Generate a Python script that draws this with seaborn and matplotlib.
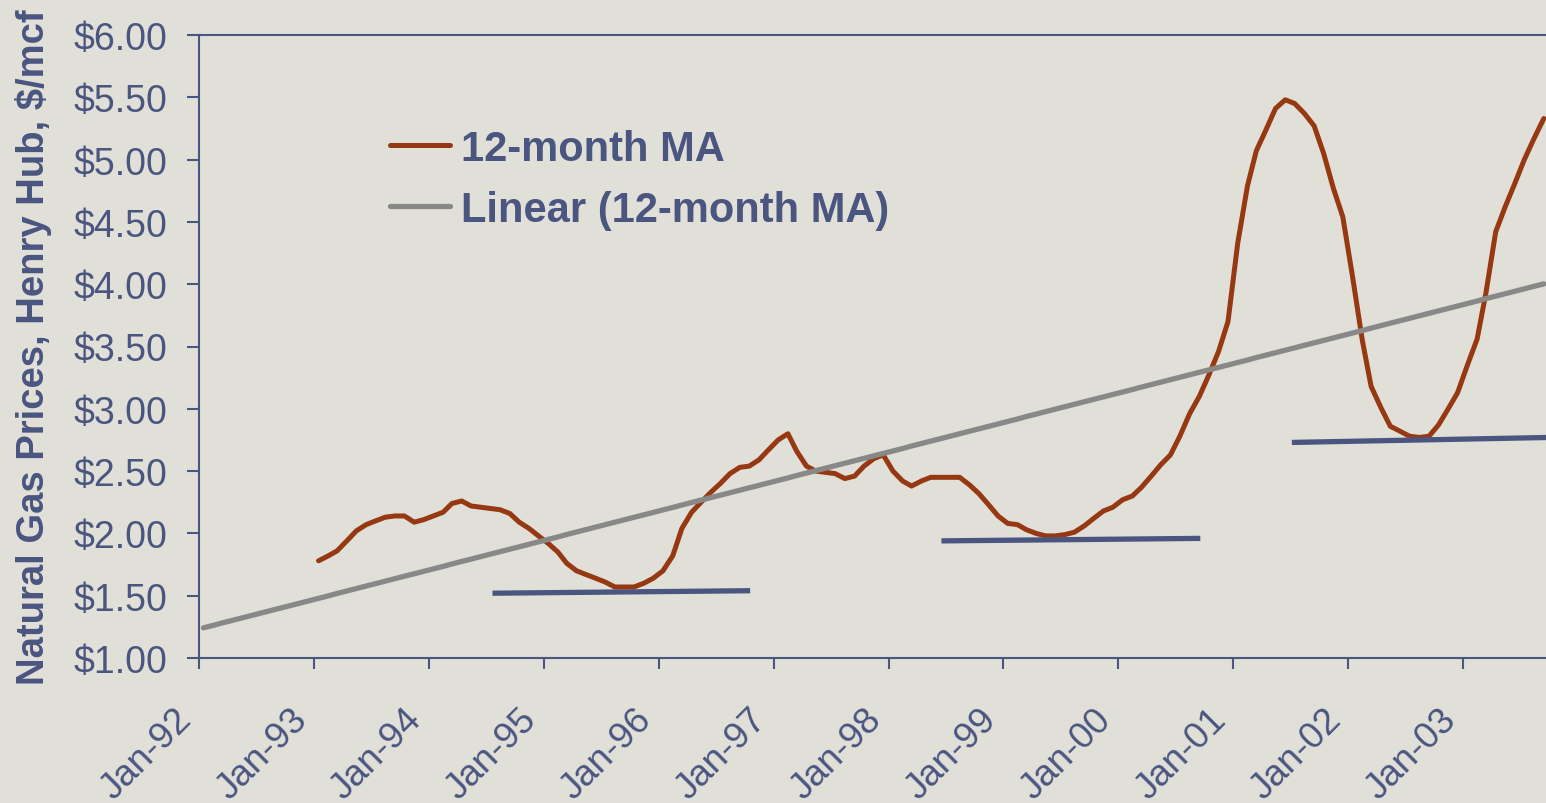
import numpy as np
import pandas as pd
import seaborn as sns
import matplotlib.pyplot as plt
import matplotlib.dates as mdates
from matplotlib.ticker import FuncFormatter

# 12-month moving average of Henry Hub price, $/mcf, monthly from Jan-93
ma_start = '1993-01-01'
ma_values = [
    1.78, 1.82, 1.86, 1.94, 2.02, 2.07, 2.10, 2.13, 2.14, 2.14, 2.09, 2.11,   # 1993
    2.14, 2.17, 2.24, 2.26, 2.22, 2.21, 2.20, 2.19, 2.16, 2.09, 2.04, 1.98,   # 1994
    1.92, 1.85, 1.76, 1.70, 1.67, 1.64, 1.61, 1.57, 1.57, 1.57, 1.60, 1.64,   # 1995
    1.70, 1.82, 2.04, 2.17, 2.25, 2.33, 2.40, 2.48, 2.53, 2.54, 2.59, 2.67,   # 1996
    2.75, 2.80, 2.66, 2.54, 2.50, 2.49, 2.48, 2.44, 2.46, 2.54, 2.60, 2.63,   # 1997
    2.50, 2.42, 2.38, 2.42, 2.45, 2.45, 2.45, 2.45, 2.39, 2.32, 2.23, 2.14,   # 1998
    2.08, 2.07, 2.03, 2.00, 1.98, 1.98, 1.99, 2.01, 2.06, 2.12, 2.18, 2.21,   # 1999
    2.27, 2.30, 2.37, 2.46, 2.55, 2.63, 2.78, 2.96, 3.10, 3.27, 3.46, 3.70,   # 2000
    4.33, 4.79, 5.07, 5.24, 5.41, 5.48, 5.45, 5.37, 5.27, 5.05, 4.77, 4.54,   # 2001
    4.06, 3.55, 3.18, 3.01, 2.86, 2.82, 2.78, 2.77, 2.78, 2.87, 3.00, 3.13,   # 2002
    3.35, 3.56, 3.93, 4.42, 4.62, 4.81, 5.00, 5.17, 5.33,                     # 2003
]

# hand-drawn support levels (start, end, price at start, price at end)
support_start = ['1994-07-22', '1998-06-18', '2001-07-06']
support_end = ['1996-10-18', '2000-09-18', '2003-10-01']
support_lo = [1.52, 1.94, 2.73]
support_hi = [1.54, 1.96, 2.77]

y_ticks = [1.0, 1.5, 2.0, 2.5, 3.0, 3.5, 4.0, 4.5, 5.0, 5.5, 6.0]

bg = '#e1e0d8'
navy = '#4a5580'
red = '#963812'
grey = '#888888'

plt.rcParams['font.family'] = ['Liberation Sans', 'DejaVu Sans']

# monthly points sit mid-month
ma_dates = pd.date_range(ma_start, periods=len(ma_values), freq='MS') + pd.Timedelta(days=14)
first = pd.Timestamp('1992-01-01')
ma_idx = np.array([(d.year - first.year) * 12 + d.month - 1 for d in ma_dates])

# Linear trendline fitted to the moving average, drawn from Jan-92
coef = np.polyfit(ma_idx, ma_values, 1)
trend_idx = np.arange(0, ma_idx[-1] + 1)
trend_dates = pd.date_range(first, periods=len(trend_idx), freq='MS') + pd.Timedelta(days=14)
trend_values = np.polyval(coef, trend_idx)

df_ma = pd.DataFrame({'date': ma_dates, 'price': ma_values})
df_trend = pd.DataFrame({'date': trend_dates, 'price': trend_values})

x_lo, x_hi = pd.Timestamp('1992-01-01'), pd.Timestamp('2003-12-20')
px_per_day = 1378.8 / 4383  # one year ~ 115 px
ax_w = (x_hi - x_lo).days * px_per_day

fig = plt.figure(figsize=(15.46, 8.04), dpi=100)
fig.patch.set_facecolor(bg)
ax = fig.add_axes([199 / 1546, 145 / 804, ax_w / 1546, 623 / 804])
ax.set_facecolor(bg)

sns.lineplot(data=df_ma, x='date', y='price', ax=ax, color=red, linewidth=3.6,
             label='12-month MA', solid_capstyle='round')
sns.lineplot(data=df_trend, x='date', y='price', ax=ax, color=grey, linewidth=3.8,
             label='Linear (12-month MA)', solid_capstyle='round')

for s, e, lo, hi in zip(support_start, support_end, support_lo, support_hi):
    ax.plot([pd.Timestamp(s), pd.Timestamp(e)], [lo, hi], color=navy, linewidth=3.8,
            solid_capstyle='butt')

ax.set_xlim(x_lo, x_hi)
ax.set_ylim(y_ticks[0], y_ticks[-1])
ax.set_yticks(y_ticks)
ax.yaxis.set_major_formatter(FuncFormatter(lambda v, p: f'${v:.2f}'))
ax.xaxis.set_major_locator(mdates.YearLocator())
ax.xaxis.set_major_formatter(mdates.DateFormatter('%b-%y'))

for sp in ax.spines.values():
    sp.set_color(navy)
    sp.set_linewidth(1.5)

ax.tick_params(axis='y', colors=navy, labelcolor=navy, labelsize=27, length=8.5,
               width=1.5, pad=14)
ax.tick_params(axis='x', colors=navy, labelcolor=navy, labelsize=26.5, length=8,
               width=1.5, pad=41)
for lab in ax.get_xticklabels():
    lab.set_rotation(45)
    lab.set_rotation_mode('anchor')
    lab.set_ha('right')
    lab.set_va('bottom')

ax.set_xlabel('')
ax.set_ylabel('Natural Gas Prices, Henry Hub, $/mcf', fontsize=27.5, fontweight='bold',
              color=navy, labelpad=16)

leg = ax.legend(loc='upper left', bbox_to_anchor=(0.1385 * 1378.8 / ax_w, 0.849), frameon=False,
                borderaxespad=0, borderpad=0, handlelength=1.45, handletextpad=0.25,
                labelspacing=0.5, prop={'size': 30, 'weight': 'bold'})
for t in leg.get_texts():
    t.set_color(navy)

fig.savefig('out.png', dpi=100, facecolor=bg)
